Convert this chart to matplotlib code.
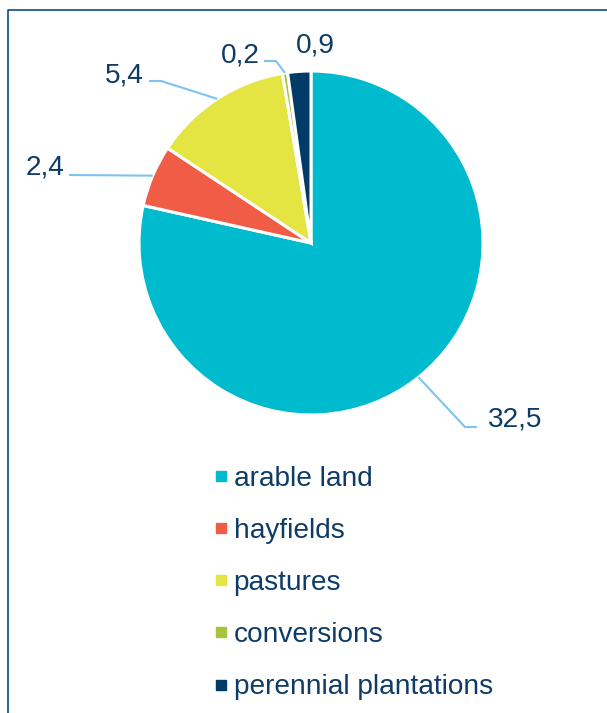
import matplotlib.pyplot as plt
import numpy as np
from matplotlib.lines import Line2D

plt.rcParams['font.family'] = ['Liberation Sans', 'DejaVu Sans']

categories = ['arable land', 'hayfields', 'pastures', 'conversions', 'perennial plantations']
values = [32.5, 2.4, 5.4, 0.2, 0.9]
colors = ['#00BACD', '#F15C46', '#E4E543', '#A7C43D', '#003A66']

text_col = '#0E3C66'
leader_col = '#7CC3F5'

W, H = 607, 713
fig = plt.figure(figsize=(W / 100, H / 100), dpi=100)
ax = fig.add_axes([0, 0, 1, 1])

cx, cy, r = 311, H - 243, 172
wedges, _ = ax.pie(values, colors=colors, startangle=90, counterclock=False,
                   center=(cx, cy), radius=r,
                   wedgeprops=dict(edgecolor='white', linewidth=2.2))
ax.set_xlim(0, W)
ax.set_ylim(0, H)
ax.set_aspect('equal')
ax.axis('off')

# label text position (left, baseline) and leader elbow points, in pixels from top-left
label_pos = [(488, 427), (26, 175), (105, 83), (221, 62), (296, 53)]
leaders = [[(477, 427), (465, 427)],
           [(69, 175)],
           [(149, 81), (161, 81)],
           [(264, 61), (276, 61)],
           None]

for w, v, (lx, ly), pts in zip(wedges, values, label_pos, leaders):
    ax.text(lx, H - ly, f'{v:.1f}'.replace('.', ','), fontsize=20.2,
            color=text_col, ha='left', va='baseline')
    if pts is None:
        continue
    mid = np.deg2rad((w.theta1 + w.theta2) / 2)
    ax_pt = (cx + r * np.cos(mid), cy + r * np.sin(mid))
    xs = [p[0] for p in pts] + [ax_pt[0]]
    ys = [H - p[1] for p in pts] + [ax_pt[1]]
    ax.plot(xs, ys, color=leader_col, lw=1.5, solid_capstyle='butt')

handles = [Line2D([], [], marker='s', linestyle='none', markersize=7.2,
                  markerfacecolor=c, markeredgecolor=c) for c in colors]
leg = ax.legend(handles, categories, loc='upper left',
                bbox_to_anchor=(214 / W, 1 - 466 / H), frameon=False,
                fontsize=20.2, labelspacing=0.93, handlelength=0.5,
                handletextpad=0.2, borderpad=0, borderaxespad=0)
for t in leg.get_texts():
    t.set_color(text_col)

# frame line along top and left edge
fig.add_artist(Line2D([8 / W, 8 / W, 1], [0, 1 - 10 / H, 1 - 10 / H],
                      transform=fig.transFigure, color='#0F4C81', lw=1.2))

fig.savefig('out.png', dpi=100)
